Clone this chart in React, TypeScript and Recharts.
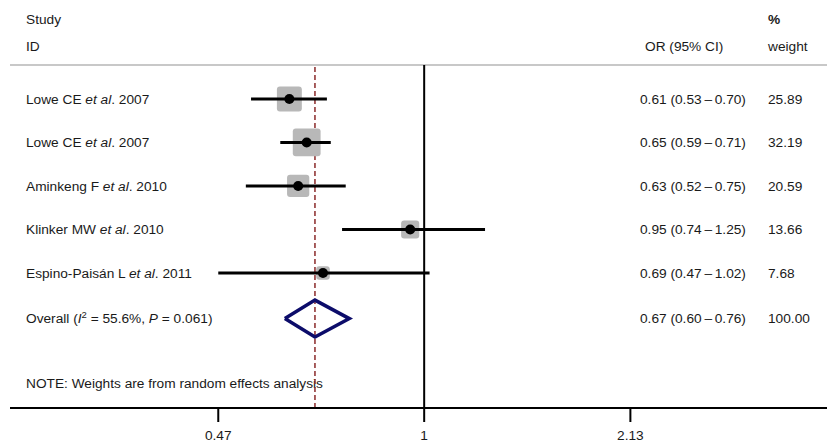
import React from "react";
import {
  ComposedChart,
  Scatter,
  XAxis,
  YAxis,
  ReferenceLine,
  Customized,
} from "recharts";

const studies = ["Lowe CE", "Lowe CE", "Aminkeng F", "Klinker MW", "Espino-Paisán L"];
const years = [2007, 2007, 2010, 2010, 2011];
const orValues = [0.61, 0.65, 0.63, 0.95, 0.69];
const ciLow = [0.53, 0.59, 0.52, 0.74, 0.47];
const ciHigh = [0.7, 0.71, 0.75, 1.25, 1.02];
const weights = [25.89, 32.19, 20.59, 13.66, 7.68];

const overallOr = 0.67;
const overallLow = 0.6;
const overallHigh = 0.76;
const overallWeight = 100;
const i2 = 55.6;
const pValue = 0.061;

const xTicks = [0.47, 1, 2.13];

// layout (row units on the y axis)
const Y_DOMAIN = [0.22, 8.105];
const OVERALL_ROW = 6.05;
const DIAMOND_HALF = 0.425;
const FONT = "'Liberation Sans', Arial, sans-serif";
const FS = 13.7;
const TEXT = "#1a1a1a";

const rows = studies.map((s, i) => ({
  x: orValues[i],
  y: i + 1,
  w: weights[i],
  idx: i,
}));

const textRows = [
  ...rows,
  { x: overallOr, y: OVERALL_ROW, w: overallWeight, idx: -1 },
];

const ciSegments = studies.map((_, i) => [
  { x: ciLow[i], y: i + 1 },
  { x: ciHigh[i], y: i + 1 },
]);

const diamond = [
  { x: overallLow, y: OVERALL_ROW },
  { x: overallOr, y: OVERALL_ROW - DIAMOND_HALF },
  { x: overallHigh, y: OVERALL_ROW },
  { x: overallOr, y: OVERALL_ROW + DIAMOND_HALF },
  { x: overallLow, y: OVERALL_ROW },
];

const fmt = (v: number) => v.toFixed(2);
const ciText = (o: number, l: number, h: number) =>
  `${fmt(o)} (${fmt(l)}\u2009\u2013\u2009${fmt(h)})`;

const Empty = () => <g />;

const BoxShape = (props: any) => {
  const { cx, cy, payload } = props;
  const side = 4.9 * Math.sqrt(payload.w);
  return (
    <rect
      x={cx - side / 2}
      y={cy - side / 2}
      width={side}
      height={side}
      rx={3}
      fill="#b8b8b8"
    />
  );
};

const DotShape = (props: any) => (
  <circle cx={props.cx} cy={props.cy} r={5} fill="#000" />
);

// draws the text columns of one row at the row's y position
const RowText = (props: any) => {
  const { cy, payload } = props;
  const y = cy;
  const common = { fontSize: FS, fill: TEXT, fontFamily: FONT };
  if (payload.idx < 0) {
    return (
      <g>
        <text x={26} y={y} dy="0.35em" {...common}>
          Overall (<tspan fontStyle="italic">I</tspan>
          <tspan fontSize={9.5} dy="-5">2</tspan>
          <tspan dy="5"> = {i2}%, </tspan>
          <tspan fontStyle="italic">P</tspan> = {pValue})
        </text>
        <text x={640} y={y} dy="0.35em" {...common}>
          {ciText(overallOr, overallLow, overallHigh)}
        </text>
        <text x={768} y={y} dy="0.35em" {...common}>
          {overallWeight.toFixed(2)}
        </text>
      </g>
    );
  }
  const i = payload.idx;
  return (
    <g>
      <text x={26} y={y} dy="0.35em" {...common}>
        {studies[i]} <tspan fontStyle="italic">et al</tspan>. {years[i]}
      </text>
      <text x={640} y={y} dy="0.35em" {...common}>
        {ciText(orValues[i], ciLow[i], ciHigh[i])}
      </text>
      <text x={768} y={y} dy="0.35em" {...common}>
        {fmt(weights[i])}
      </text>
    </g>
  );
};

const Header = () => {
  const common = { fontSize: FS, fill: TEXT, fontFamily: FONT };
  return (
    <g>
      <text x={26} y={19} dy="0.35em" {...common}>Study</text>
      <text x={26} y={46} dy="0.35em" {...common}>ID</text>
      <text x={645} y={46} dy="0.35em" {...common}>OR (95% CI)</text>
      <text x={768} y={19} dy="0.35em" {...common} fontWeight="bold">%</text>
      <text x={768} y={46} dy="0.35em" {...common}>weight</text>
      <text x={26} y={383} dy="0.35em" {...common}>
        NOTE: Weights are from random effects analysis
      </text>
    </g>
  );
};

export default function App() {
  return (
    <div style={{ position: "absolute", left: 0, top: 0, background: "#fff" }}>
      <ComposedChart
        width={827}
        height={442}
        margin={{ top: 65, right: 0, left: 10, bottom: 0 }}
        style={{ fontFamily: FONT }}
      >
        <XAxis
          type="number"
          dataKey="x"
          scale="log"
          domain={[0.219, 4.38]}
          allowDataOverflow
          ticks={xTicks}
          tickFormatter={(v: number) => String(v)}
          height={34}
          tickSize={14}
          axisLine={{ stroke: "#000", strokeWidth: 2 }}
          tickLine={{ stroke: "#000", strokeWidth: 2 }}
          tick={{ fontSize: FS, fill: TEXT, fontFamily: FONT, dy: 6 }}
        />
        <YAxis
          type="number"
          dataKey="y"
          reversed
          domain={Y_DOMAIN}
          allowDataOverflow
          hide
        />
        <ReferenceLine y={Y_DOMAIN[0]} stroke="#c8c8c8" strokeWidth={2} />
        <ReferenceLine x={1} stroke="#000" strokeWidth={2} />
        <Scatter data={rows} shape={<BoxShape />} isAnimationActive={false} />
        {ciSegments.map((seg, i) => (
          <Scatter
            key={i}
            data={seg}
            line={{ stroke: "#000", strokeWidth: 3 }}
            shape={<Empty />}
            isAnimationActive={false}
          />
        ))}
        <Scatter data={rows} shape={<DotShape />} isAnimationActive={false} />
        <Scatter
          data={diamond}
          line={{ stroke: "#0c0c6a", strokeWidth: 3.5 }}
          shape={<Empty />}
          isAnimationActive={false}
        />
        <ReferenceLine
          x={overallOr}
          stroke="#8b2a2a"
          strokeWidth={1.5}
          strokeDasharray="5 3"
        />
        <Scatter data={textRows} shape={<RowText />} isAnimationActive={false} />
        <Customized component={<Header />} />
      </ComposedChart>
    </div>
  );
}
